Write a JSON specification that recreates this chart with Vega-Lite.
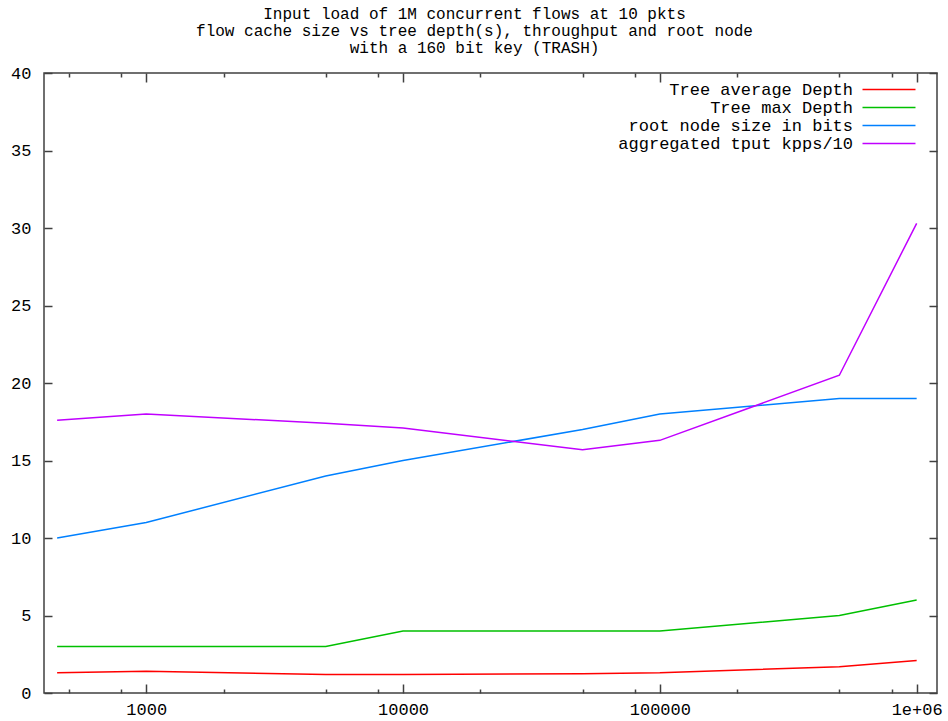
{
  "$schema": "https://vega.github.io/schema/vega-lite/v6.json",
  "autosize": {"type": "none"},
  "width": 893,
  "height": 620,
  "padding": {"left": 44, "top": 73, "right": 11, "bottom": 28},
  "background": "white",
  "config": {
    "font": "Liberation Mono",
    "view": {"stroke": "#404040", "strokeWidth": 1.5},
    "axis": {"grid": false, "domain": false, "labelFont": "Liberation Mono", "labelFontSize": 17, "labelColor": "#000", "tickColor": "#404040", "tickWidth": 1.5}
  },
  "title": {
    "text": ["Input load of 1M concurrent flows at 10 pkts", "flow cache size vs tree depth(s), throughput and root node", "with a 160 bit key (TRASH)"],
    "font": "Liberation Mono",
    "fontSize": 16,
    "fontWeight": "normal",
    "lineHeight": 16.8,
    "color": "#000",
    "anchor": "middle",
    "frame": "group",
    "dx": -16,
    "offset": 8
  },
  "data": {
    "values": [
      {"size": 450, "series": "Tree average Depth", "value": 1.3},
      {"size": 1000, "series": "Tree average Depth", "value": 1.4},
      {"size": 5000, "series": "Tree average Depth", "value": 1.2},
      {"size": 10000, "series": "Tree average Depth", "value": 1.2},
      {"size": 50000, "series": "Tree average Depth", "value": 1.25},
      {"size": 100000, "series": "Tree average Depth", "value": 1.3},
      {"size": 500000, "series": "Tree average Depth", "value": 1.7},
      {"size": 1000000, "series": "Tree average Depth", "value": 2.1},
      {"size": 450, "series": "Tree max Depth", "value": 3},
      {"size": 1000, "series": "Tree max Depth", "value": 3},
      {"size": 5000, "series": "Tree max Depth", "value": 3},
      {"size": 10000, "series": "Tree max Depth", "value": 4},
      {"size": 50000, "series": "Tree max Depth", "value": 4},
      {"size": 100000, "series": "Tree max Depth", "value": 4},
      {"size": 500000, "series": "Tree max Depth", "value": 5},
      {"size": 1000000, "series": "Tree max Depth", "value": 6},
      {"size": 450, "series": "root node size in bits", "value": 10},
      {"size": 1000, "series": "root node size in bits", "value": 11},
      {"size": 5000, "series": "root node size in bits", "value": 14},
      {"size": 10000, "series": "root node size in bits", "value": 15},
      {"size": 50000, "series": "root node size in bits", "value": 17},
      {"size": 100000, "series": "root node size in bits", "value": 18},
      {"size": 500000, "series": "root node size in bits", "value": 19},
      {"size": 1000000, "series": "root node size in bits", "value": 19},
      {"size": 450, "series": "aggregated tput kpps/10", "value": 17.6},
      {"size": 1000, "series": "aggregated tput kpps/10", "value": 18.0},
      {"size": 5000, "series": "aggregated tput kpps/10", "value": 17.4},
      {"size": 10000, "series": "aggregated tput kpps/10", "value": 17.1},
      {"size": 50000, "series": "aggregated tput kpps/10", "value": 15.7},
      {"size": 100000, "series": "aggregated tput kpps/10", "value": 16.3},
      {"size": 500000, "series": "aggregated tput kpps/10", "value": 20.5},
      {"size": 1000000, "series": "aggregated tput kpps/10", "value": 30.3}
    ]
  },
  "layer": [
    {
      "mark": {"type": "line", "strokeWidth": 1.5, "clip": true},
      "encoding": {
        "x": {
          "field": "size", "type": "quantitative",
          "scale": {"type": "log", "domain": [400, 1200000], "nice": false},
          "axis": {
            "title": null,
            "orient": "bottom",
            "values": [500, 800, 1000, 2000, 5000, 8000, 10000, 20000, 50000, 80000, 100000, 200000, 500000, 800000, 1000000],
            "labelExpr": "datum.value == 1000000 ? '1e+06' : (indexof([1000, 10000, 100000], datum.value) >= 0 ? format(datum.value, 'd') : '')",
            "tickSize": {"condition": {"test": "indexof([1000, 10000, 100000, 1000000], datum.value) >= 0", "value": -9}, "value": -4},
            "labelPadding": 17,
            "labelOverlap": false,
            "labelFlush": false
          }
        },
        "y": {
          "field": "value", "type": "quantitative",
          "scale": {"domain": [0, 40], "nice": false, "zero": true},
          "axis": {"title": null, "orient": "left", "values": [0, 5, 10, 15, 20, 25, 30, 35, 40], "tickSize": -8, "labelPadding": 21}
        },
        "color": {
          "field": "series", "type": "nominal",
          "scale": {"domain": ["Tree average Depth", "Tree max Depth", "root node size in bits", "aggregated tput kpps/10"], "range": ["#ff0000", "#00c000", "#0080ff", "#c000ff"]},
          "legend": {
            "title": null,
            "orient": "none",
            "legendX": 835,
            "legendY": 6.5,
            "symbolType": "M-3,0H3",
            "symbolSize": 312,
            "symbolStrokeWidth": 1.5,
            "symbolFillColor": "transparent",
            "labelFont": "Liberation Mono",
            "labelFontSize": 17,
            "labelColor": "#000",
            "labelAlign": "right",
            "labelOffset": -46,
            "labelLimit": 400,
            "rowPadding": -1,
            "padding": 0
          }
        }
      }
    },
    {
      "mark": {"type": "line", "opacity": 0},
      "encoding": {
        "x": {
          "field": "size", "type": "quantitative",
          "scale": {"type": "log", "domain": [400, 1200000], "nice": false},
          "axis": {
            "title": null,
            "orient": "top",
            "labels": false,
            "values": [500, 800, 1000, 2000, 5000, 8000, 10000, 20000, 50000, 80000, 100000, 200000, 500000, 800000, 1000000],
            "tickSize": {"condition": {"test": "indexof([1000, 10000, 100000, 1000000], datum.value) >= 0", "value": -9}, "value": -4}
          }
        },
        "y": {
          "field": "value", "type": "quantitative",
          "scale": {"domain": [0, 40], "nice": false},
          "axis": {"title": null, "orient": "right", "labels": false, "values": [0, 5, 10, 15, 20, 25, 30, 35, 40], "tickSize": -8}
        },
        "detail": {"field": "series"}
      }
    }
  ],
  "resolve": {"axis": {"x": "independent", "y": "independent"}}
}
